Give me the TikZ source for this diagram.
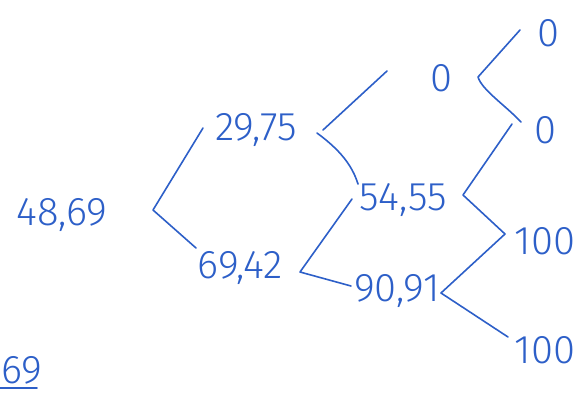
\documentclass[tikz,border=0pt]{standalone}
\usepackage{fontspec}
\setmainfont{Fira Sans}[UprightFont=* Light]
\definecolor{ink}{RGB}{45,95,200}
\begin{document}
\begin{tikzpicture}[x=1pt,y=-1pt,
  lbl/.style={text=ink,font=\fontsize{40}{40}\selectfont,inner sep=0pt},
  edge/.style={draw=ink,line width=1.6pt,line cap=round,line join=round}]
\useasboundingbox (0,0) rectangle (581,394);
% labels
\node[lbl] (a) at (62,215) {48,69};
\node[lbl] (b) at (256,130) {29,75};
\node[lbl] (c) at (240,268) {69,42};
\node[lbl] (d) at (403,200) {54,55};
\node[lbl] (e) at (397,291) {90,91};
\node[lbl] (f) at (441,78) {0};
\node[lbl] (g) at (548,33) {0};
\node[lbl] (h) at (545,130) {0};
\node[lbl] (i) at (545,241) {100};
\node[lbl] (j) at (545,350) {100};
\node[lbl,anchor=west] (k) at (1,370) {69};
% connector points
\coordinate (av) at (153,210);
\coordinate (au) at (203,128);
\coordinate (ad) at (196,248);
\coordinate (bv) at (323,130);
\coordinate (bu) at (387,71);
\coordinate (bs) at (317,133);
\coordinate (bd) at (358,184);
\coordinate (cv) at (300,272);
\coordinate (cu) at (352,199);
\coordinate (cd) at (351,286);
\coordinate (dv) at (463,195);
\coordinate (du) at (512,124);
\coordinate (mz) at (505,234);
\coordinate (ev) at (441,293);
\coordinate (ed) at (508,337);
\coordinate (fv) at (478,77);
\coordinate (fu) at (520,30);
\coordinate (fd) at (521,122);
\coordinate (ku1) at (0,388);
\coordinate (ku2) at (37,388);
% connectors
\draw[edge] (au) -- (av) -- (ad);
\draw[edge] (bu) -- (bv);
\draw[edge] (bs) .. controls (340,150) and (352,165) .. (bd);
\draw[edge] (cu) -- (cv) -- (cd);
\draw[edge] (du) -- (dv) -- (mz) -- (ev) -- (ed);
\draw[edge] (fu) -- (fv) .. controls (482,90) and (505,105) .. (fd);
\draw[edge] (ku1) -- (ku2);
\end{tikzpicture}
\end{document}
